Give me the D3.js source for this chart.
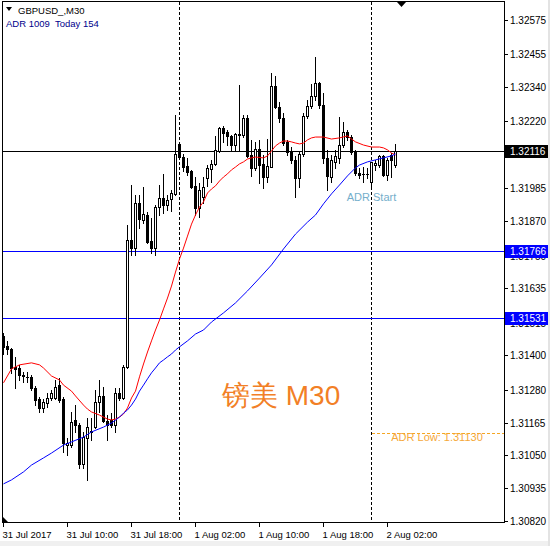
<!DOCTYPE html>
<html><head><meta charset="utf-8">
<script src="https://cdn.jsdelivr.net/npm/d3@7"></script>
<style>
body{margin:0;background:#fff;}
svg{display:block;}
text{font-family:"Liberation Sans",Arial,sans-serif;}
</style>
</head><body><div id="chart"></div>
<script>
// ---------- DATA ----------
const symbolTitle = "GBPUSD_,M30";
const adrInfo = "ADR 1009  Today 154";
const watermark = "镑美 M30";
const adrStartLabel = "ADR Start";
const adrLowLabel = "ADR Low: 1.31130";

const opens = [1.31468,1.31433,1.31423,1.31360,1.31356,1.31332,1.31326,1.31325,1.31286,1.31247,
1.31216,1.31233,1.31251,1.31251,1.31296,1.31247,1.31086,1.31086,1.31174,1.31156,
1.31020,1.31111,1.31132,1.31149,1.31237,1.31258,1.31170,1.31174,1.31156,1.31268,
1.31251,1.31360,1.31804,1.31776,1.31934,1.31874,1.31892,1.31801,1.31776,1.31920,
1.31952,1.31927,1.31948,1.31966,1.32141,1.32095,1.32064,1.32046,1.31994,1.31917,
1.31955,1.32022,1.32053,1.32071,1.32116,1.32197,1.32183,1.32169,1.32137,1.32172,
1.32172,1.32232,1.32102,1.32057,1.32123,1.32071,1.32025,1.32060,1.32344,1.32270,
1.32232,1.32148,1.32113,1.32085,1.32022,1.32106,1.32239,1.32274,1.32309,1.32354,
1.32277,1.32092,1.32025,1.32078,1.32092,1.32137,1.32183,1.32165,1.32113,1.32039,
1.32036,1.32036,1.32008,1.32067,1.32067,1.32099,1.32032,1.32102,1.32067];
const highs = [1.31479,1.31451,1.31426,1.31395,1.31367,1.31342,1.31342,1.31332,1.31293,1.31254,
1.31247,1.31268,1.31279,1.31314,1.31321,1.31254,1.31111,1.31202,1.31226,1.31163,
1.31132,1.31181,1.31181,1.31279,1.31314,1.31289,1.31191,1.31198,1.31286,1.31286,
1.31367,1.31857,1.31997,1.31962,1.31962,1.31990,1.31903,1.31881,1.31927,1.31997,
1.32036,1.31962,1.31980,1.32242,1.32144,1.32106,1.32092,1.32050,1.32025,1.32004,
1.32025,1.32067,1.32085,1.32169,1.32200,1.32204,1.32190,1.32172,1.32179,1.32347,
1.32242,1.32242,1.32155,1.32148,1.32155,1.32102,1.32158,1.32389,1.32379,1.32288,
1.32249,1.32155,1.32130,1.32099,1.32113,1.32249,1.32295,1.32351,1.32445,1.32358,
1.32319,1.32120,1.32102,1.32120,1.32235,1.32218,1.32190,1.32172,1.32120,1.32057,
1.32060,1.32057,1.32078,1.32085,1.32102,1.32102,1.32092,1.32109,1.32139];
const lows = [1.31405,1.31405,1.31339,1.31286,1.31314,1.31307,1.31307,1.31279,1.31226,1.31202,
1.31202,1.31219,1.31244,1.31247,1.31237,1.31062,1.31051,1.31079,1.31132,1.31006,
1.31006,1.30964,1.31104,1.31146,1.31202,1.31167,1.31104,1.31149,1.31132,1.31244,
1.31247,1.31356,1.31752,1.31752,1.31846,1.31864,1.31794,1.31759,1.31752,1.31892,
1.31899,1.31910,1.31906,1.31962,1.32092,1.32046,1.32032,1.31987,1.31892,1.31885,
1.31934,1.31994,1.32008,1.32067,1.32113,1.32148,1.32137,1.32120,1.32120,1.32120,
1.32165,1.32095,1.32029,1.32050,1.32004,1.31987,1.32008,1.32060,1.32267,1.32218,
1.32137,1.32102,1.32074,1.31955,1.31990,1.32099,1.32232,1.32267,1.32295,1.32267,
1.32074,1.31980,1.32008,1.32057,1.32074,1.32130,1.32155,1.32106,1.32032,1.32022,
1.32008,1.32022,1.31985,1.32050,1.32060,1.32029,1.32015,1.32025,1.32060];
const closes = [1.31430,1.31423,1.31356,1.31353,1.31332,1.31328,1.31325,1.31286,1.31244,1.31216,
1.31237,1.31251,1.31268,1.31289,1.31244,1.31093,1.31093,1.31167,1.31156,1.31020,
1.31114,1.31149,1.31135,1.31237,1.31258,1.31170,1.31156,1.31156,1.31268,1.31251,
1.31360,1.31804,1.31776,1.31934,1.31878,1.31896,1.31797,1.31776,1.31920,1.31952,
1.31927,1.31945,1.31969,1.32106,1.32095,1.32060,1.32043,1.31990,1.31917,1.31980,
1.31990,1.32057,1.32071,1.32120,1.32197,1.32179,1.32169,1.32137,1.32176,1.32176,
1.32232,1.32099,1.32057,1.32123,1.32067,1.32025,1.32064,1.32344,1.32270,1.32232,
1.32144,1.32113,1.32085,1.32022,1.32106,1.32239,1.32274,1.32309,1.32354,1.32277,
1.32092,1.32029,1.32085,1.32099,1.32137,1.32183,1.32165,1.32113,1.32039,1.32032,
1.32034,1.32034,1.32078,1.32074,1.32099,1.32032,1.32085,1.32085,1.32116];

// moving averages: [bar index, value]
const redMA = [[0,1.31304],[2,1.31353],[4,1.31367],[7,1.31374],[9,1.31367],[10,1.31356],[12,1.31328],[14,1.31314],[15,1.31296],[17,1.31275],[18,1.31258],[20,1.31226],[21,1.31212],[22,1.31202],[24,1.31191],[26,1.31177],[27,1.31174],[28,1.31177],[29,1.31184],[30,1.31195],[31,1.31216],[32,1.31251],[33,1.31275],[34,1.31325],[35,1.31370],[36,1.31412],[37,1.31451],[38,1.31489],[39,1.31524],[40,1.31563],[41,1.31601],[42,1.31643],[43,1.31692],[44,1.31738],[45,1.31776],[46,1.31818],[47,1.31860],[48,1.31892],[49,1.31920],[50,1.31938],[51,1.31969],[52,1.31983],[53,1.31994],[54,1.32011],[55,1.32025],[56,1.32036],[57,1.32050],[58,1.32060],[59,1.32071],[60,1.32078],[61,1.32088],[62,1.32092],[63,1.32095],[65,1.32092],[66,1.32099],[67,1.32116],[68,1.32134],[69,1.32144],[70,1.32151],[71,1.32151],[72,1.32148],[73,1.32144],[74,1.32141],[75,1.32144],[76,1.32155],[77,1.32162],[78,1.32165],[80,1.32165],[82,1.32158],[84,1.32162],[86,1.32169],[87,1.32158],[88,1.32148],[90,1.32137],[92,1.32130],[94,1.32130],[95,1.32127],[96,1.32120],[97,1.32109],[98,1.32102]];
const blueMA = [[0,1.30950],[2,1.30964],[5,1.30992],[7,1.31016],[10,1.31041],[12,1.31058],[15,1.31086],[17,1.31097],[20,1.31114],[22,1.31132],[25,1.31149],[27,1.31163],[29,1.31184],[30,1.31198],[31,1.31209],[32,1.31226],[33,1.31247],[34,1.31275],[35,1.31296],[36,1.31318],[37,1.31339],[38,1.31356],[39,1.31374],[40,1.31384],[41,1.31395],[42,1.31405],[43,1.31419],[44,1.31430],[46,1.31451],[48,1.31475],[50,1.31489],[52,1.31517],[55,1.31549],[58,1.31584],[61,1.31626],[64,1.31671],[67,1.31717],[70,1.31773],[73,1.31825],[76,1.31867],[78,1.31892],[80,1.31931],[82,1.31966],[84,1.31997],[86,1.32029],[88,1.32057],[89,1.32067],[91,1.32078],[93,1.32085],[95,1.32092],[97,1.32099],[98,1.32106]];

const yTickLabels = ["1.32575","1.32455","1.32340","1.32220","1.32105","1.31985","1.31870","1.31750","1.31635","1.31515","1.31400","1.31280","1.31165","1.31050","1.30935","1.30820"];
const xTickBars = [0,16,32,48,64,80,96];
const xTickLabels = ["31 Jul 2017","31 Jul 10:00","31 Jul 18:00","1 Aug 02:00","1 Aug 10:00","1 Aug 18:00","2 Aug 02:00"];
const daySeparatorBars = [44, 92];
const bidPrice = 1.32116;
const levelPrices = [1.31766, 1.31531];
const adrLowPrice = 1.31130;
const adrStartBar = 92;

// ---------- CHART ----------
const W = 550, H = 546;
const plot = {left: 2.5, top: 1.5, right: 504.5, bottom: 522.5};
const svg = d3.select("#chart").append("svg").attr("width", W).attr("height", H);
svg.append("rect").attr("width", W).attr("height", H).attr("fill", "#fff");

const x = d3.scaleLinear().domain([0, 98]).range([3.5, 395.5]);
const y = d3.scaleLinear().domain([1.30820, 1.32575]).range([521, 20]);
const py = v => Math.round(y(v));

svg.append("clipPath").attr("id", "clip").append("rect")
  .attr("x", plot.left).attr("y", plot.top)
  .attr("width", plot.right - plot.left).attr("height", plot.bottom - plot.top);
const g = svg.append("g").attr("clip-path", "url(#clip)");

// day separators
g.selectAll("line.sep").data(daySeparatorBars).join("line").attr("class", "sep")
  .attr("x1", d => Math.floor(x(d)) + 0.5).attr("x2", d => Math.floor(x(d)) + 0.5)
  .attr("y1", plot.top).attr("y2", plot.bottom)
  .attr("stroke", "#000").attr("stroke-dasharray", "3,2").attr("shape-rendering", "crispEdges");

// horizontal levels
g.append("line").attr("class", "bid").attr("x1", plot.left).attr("x2", plot.right)
  .attr("y1", py(bidPrice) + 0.5).attr("y2", py(bidPrice) + 0.5)
  .attr("stroke", "#000").attr("shape-rendering", "crispEdges");
g.selectAll("line.lvl").data(levelPrices).join("line").attr("class", "lvl")
  .attr("x1", plot.left).attr("x2", plot.right)
  .attr("y1", d => py(d) + 0.5).attr("y2", d => py(d) + 0.5)
  .attr("stroke", "#0000ff").attr("shape-rendering", "crispEdges");

// ADR low line
g.append("line").attr("class", "adrlow").attr("x1", Math.floor(x(adrStartBar)) + 1).attr("x2", plot.right)
  .attr("y1", py(adrLowPrice) + 0.5).attr("y2", py(adrLowPrice) + 0.5)
  .attr("stroke", "#f5a623").attr("stroke-dasharray", "3,2").attr("shape-rendering", "crispEdges");

// candles
const bars = opens.map((o, i) => ({i, o, h: highs[i], l: lows[i], c: closes[i]}));
const cg = g.append("g").attr("shape-rendering", "crispEdges");
bars.forEach(b => {
  const cx = Math.floor(x(b.i));
  const yh = py(b.h), yl = py(b.l);
  cg.append("rect").attr("x", cx).attr("y", yh).attr("width", 1).attr("height", Math.max(1, yl - yh + 1)).attr("fill", "#000");
  const top = py(Math.max(b.o, b.c)), bot = py(Math.min(b.o, b.c));
  const hgt = Math.max(1, bot - top + 1);
  cg.append("rect").attr("x", cx - 1).attr("y", top).attr("width", 3).attr("height", hgt).attr("fill", "#000");
  if (b.c > b.o && hgt > 2) {
    cg.append("rect").attr("x", cx).attr("y", top + 1).attr("width", 1).attr("height", hgt - 2).attr("fill", "#fff");
  }
});

// moving averages
const line = d3.line().x(d => x(d[0])).y(d => y(d[1]));
g.append("path").datum(redMA).attr("d", line).attr("fill", "none").attr("stroke", "#ff0000").attr("stroke-width", 1);
g.append("path").datum(blueMA).attr("d", line).attr("fill", "none").attr("stroke", "#0000ff").attr("stroke-width", 1);

// texts inside plot
svg.append("text").attr("x", 222).attr("y", 405).attr("font-size", 28)
  .attr("font-family", "'Liberation Sans','Noto Sans CJK SC',sans-serif")
  .attr("fill", "#f27f26").text(watermark);
svg.append("text").attr("x", Math.floor(x(adrStartBar)) + 0.5).attr("y", 201).attr("text-anchor", "middle")
  .attr("font-size", 11).attr("fill", "#74aecb").text(adrStartLabel);
svg.append("text").attr("x", 437).attr("y", 441).attr("text-anchor", "middle")
  .attr("font-size", 11).attr("fill", "#f5a83a").text(adrLowLabel);

// frame
svg.append("rect").attr("x", plot.left).attr("y", plot.top)
  .attr("width", plot.right - plot.left).attr("height", plot.bottom - plot.top)
  .attr("fill", "none").attr("stroke", "#000").attr("shape-rendering", "crispEdges");

// y axis ticks and labels
const yAxis = svg.append("g").attr("shape-rendering", "crispEdges");
yTickLabels.forEach(t => {
  const ty = py(+t);
  yAxis.append("line").attr("x1", plot.right).attr("x2", plot.right + 3.5).attr("y1", ty + 0.5).attr("y2", ty + 0.5).attr("stroke", "#000");
  yAxis.append("text").attr("x", 510).attr("y", ty + 4).attr("font-size", 10).attr("fill", "#000").text(t);
});
// price boxes
const boxes = [{p: bidPrice, c: "#000"}].concat(levelPrices.map(p => ({p, c: "#0000ff"})));
boxes.forEach(b => {
  const ty = py(b.p);
  svg.append("rect").attr("x", 505).attr("y", ty - 6).attr("width", 44).attr("height", 13).attr("fill", b.c);
  svg.append("text").attr("x", 510).attr("y", ty + 4).attr("font-size", 10).attr("fill", "#fff").text(b.p.toFixed(5));
});

// x axis
const xAxis = svg.append("g").attr("shape-rendering", "crispEdges");
xTickBars.forEach((b, k) => {
  const tx = Math.floor(x(b)) + 0.5;
  xAxis.append("line").attr("x1", tx).attr("x2", tx).attr("y1", plot.bottom).attr("y2", plot.bottom + 4).attr("stroke", "#000");
  xAxis.append("text").attr("x", tx - 1).attr("y", 538).attr("font-size", 9.5).attr("fill", "#000").text(xTickLabels[k]);
});

// header
svg.append("path").attr("d", "M6,7 L12,7 L9,11 Z").attr("fill", "#000");
svg.append("text").attr("x", 18).attr("y", 14).attr("font-size", 9.5).attr("fill", "#000").text(symbolTitle);
svg.append("text").attr("x", 6).attr("y", 27).attr("font-size", 9.5).attr("fill", "#00008b")
  .style("white-space", "pre").text(adrInfo);

// chart shift marker and corner marker
svg.append("path").attr("d", "M397,2 L406,2 L401.5,7 Z").attr("fill", "#000");
svg.append("path").attr("d", "M3,517 L3,522 L8,522 Z").attr("fill", "#000");

// window edges
svg.append("rect").attr("x", 0).attr("y", 541).attr("width", W).attr("height", 5).attr("fill", "#f0f0f0");
svg.append("rect").attr("x", 548).attr("y", 0).attr("width", 2).attr("height", H).attr("fill", "#e3e3e3");
</script>
</body></html>
